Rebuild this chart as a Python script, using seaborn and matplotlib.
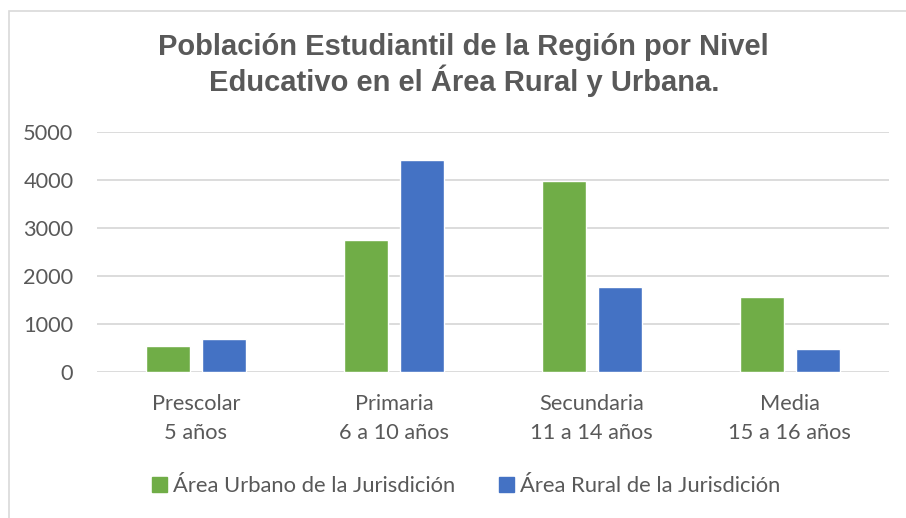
import matplotlib
matplotlib.use("Agg")
import matplotlib.pyplot as plt
import matplotlib.patches as mpatches
import pandas as pd
import seaborn as sb

# values
niveles = ["Prescolar\n5 años", "Primaria\n6 a 10 años", "Secundaria\n11 a 14 años", "Media\n15 a 16 años"]
urbano = [550, 2760, 3980, 1570]
rural = [690, 4410, 1770, 475]
series = ["Área Urbano de la Jurisdición", "Área Rural de la Jurisdición"]
colores = ["#70AD47", "#4472C4"]
yticks = [0, 1000, 2000, 3000, 4000, 5000]

df = pd.DataFrame({
    "nivel": niveles * 2,
    "valor": urbano + rural,
    "serie": [series[0]] * len(niveles) + [series[1]] * len(niveles),
})

sb.set_style("white")
plt.rcParams["font.family"] = ["Lato", "DejaVu Sans"]
gris = "#595959"

fig = plt.figure(figsize=(9.06, 5.18), dpi=100)
ax = fig.add_axes([0.107, 0.282, 0.874, 0.463])

sb.barplot(data=df, x="nivel", y="valor", hue="serie", palette=colores,
           width=0.57, gap=0.22, ax=ax, legend=False, saturation=1)

ax.set_ylim(0, 5000)
ax.set_xlim(-0.5, 3.5)
ax.set_yticks(yticks)
ax.set_yticklabels([str(v) for v in yticks])
ax.yaxis.grid(True, color="#d9d9d9", linewidth=1.3)
ax.set_axisbelow(True)
for s in ax.spines.values():
    s.set_visible(False)
ax.tick_params(axis="both", length=0, labelsize=15.7, colors=gris)
ax.tick_params(axis="y", pad=17)
ax.tick_params(axis="x", pad=16)
ax.set_xticks(range(len(niveles)))
ax.set_xticklabels(niveles, linespacing=1.55)
ax.set_xlabel("")
ax.set_ylabel("")

fig.text(0.512, 0.874, "Población Estudiantil de la Región por Nivel\nEducativo en el Área Rural y Urbana.",
         ha="center", va="center", fontsize=21, fontweight="bold", color=gris,
         family="Liberation Sans", linespacing=1.12)

handles = [mpatches.Patch(color=c, label=l) for c, l in zip(colores, series)]
fig.legend(handles=handles, loc="center", bbox_to_anchor=(0.515, 1 - 486 / 518), ncol=2,
           frameon=False, fontsize=15.8, labelcolor=gris, handlelength=0.65, handleheight=0.65,
           handletextpad=0.3, columnspacing=2.0)

# chart border as in the spreadsheet export
fig.patches.append(mpatches.Rectangle((9 / 906, -0.1), 1.2, 1 - 11 / 518 + 0.1, transform=fig.transFigure,
                                      fill=False, edgecolor="#d9d9d9", linewidth=1.2))

fig.savefig("out.png", dpi=100)
